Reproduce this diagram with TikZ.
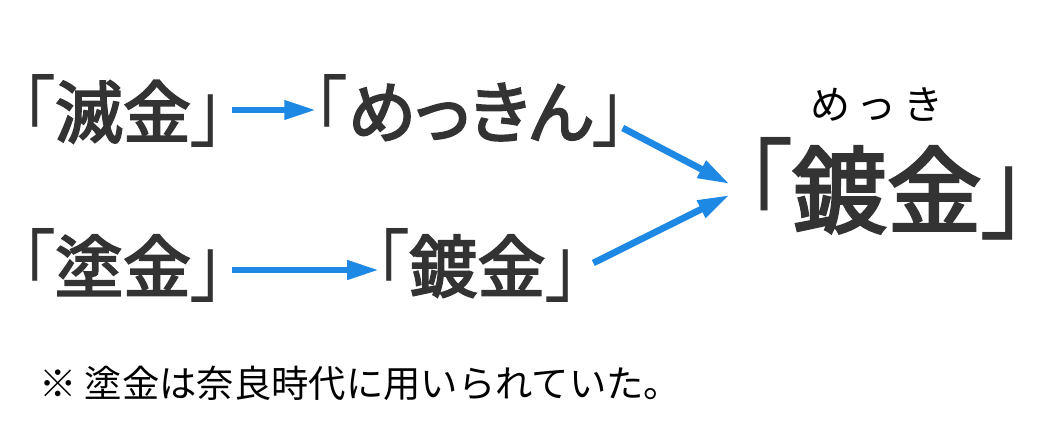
\documentclass[tikz,border=0pt]{standalone}
\usepackage{fontspec}
\usepackage{graphicx}
\usetikzlibrary{arrows.meta, calc}
\newfontfamily\jpfont{Noto Sans CJK JP}
\newfontfamily\jpkagi[RawFeature=+palt]{Noto Sans CJK JP}
\newfontfamily\jpmid[FakeBold=3, RawFeature=+palt]{Noto Sans CJK JP}
% tall thin brackets
\newcommand\tallmark[1]{\setbox0\hbox{\jpkagi #1}%
  \raisebox{-0.1\dimexpr\ht0-\dp0\relax}{\scalebox{1}[1.2]{\copy0}}}
\newcommand\kagi[1]{\tallmark{「}#1\tallmark{」}}
\definecolor{inkgray}{HTML}{333333}
\definecolor{flowblue}{HTML}{1E88E5}
\tikzset{
  word/.style={inner sep=0pt, text=inkgray, font=\jpmid\fontsize{51}{51}\selectfont},
  bigword/.style={word, font=\jpmid\fontsize{71}{71}\selectfont},
  smallword/.style={inner sep=0pt, text=black, font=\jpfont\fontsize{28}{28}\selectfont},
  flow/.style={flowblue, line width=5pt, -{Triangle[length=24pt,width=13.5pt]}},
}
\begin{document}
\begin{tikzpicture}[x=0.75pt, y=-0.75pt]
  \useasboundingbox (0, 0) rectangle (1048, 446);
  % Upper Row
  \node[word] (metsukin) at (123, 111) {\kagi{滅金}};
  \node[word] (mekkin) at (470, 111) {\kagi{めっきん}};
  % Lower Row
  \node[word] (tokin) at (123, 265.5) {\kagi{塗金}};
  \node[word] (tokin2) at (477.5, 265.5) {\kagi{鍍金}};
  % Result
  \node[bigword] (mekki) at (887, 189) {\kagi{鍍金}};
  \node[smallword, font=\jpfont\fontsize{30}{30}\selectfont] (ruby) at (877, 104) {め\kern5pt っ\kern5pt き};
  % Note
  \node[smallword, anchor=west] (note) at (39, 383) {※ 塗金は奈良時代に用いられていた。};

  % Arrows
  \draw[flow] ($(metsukin.east)+(7, -1)$) -- ($(mekkin.west)+(3, -1)$);
  \draw[flow] ($(tokin.east)+(7, 4.5)$) -- ($(tokin2.west)+(4, 4.5)$);
  \draw[flow] ($(mekkin.east)+(-4, 17)$) -- ($(mekki.west)+(-15, -5)$);
  \draw[flow] ($(tokin2.east)+(13.5, -2.5)$) -- ($(mekki.west)+(-15, 6)$);
\end{tikzpicture}
\end{document}
